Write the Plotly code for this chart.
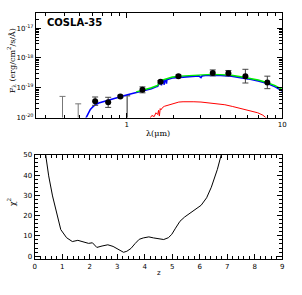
import plotly.graph_objects as go
import numpy as np

# ---- top panel data (SED) ----
phot_lam = [0.626, 0.759, 0.909, 1.261, 1.647, 2.148, 3.57, 4.50, 5.79, 8.01]
phot_logf = [-19.45, -19.49, -19.29, -19.07, -18.80, -18.61, -18.50, -18.51, -18.61, -18.82]
phot_err_dex = [0.14, 0.17, 0.04, 0.10, 0.04, 0.04, 0.10, 0.09, 0.23, 0.21]

lim_lam = [0.386, 0.487, 1.006]
lim_logf = [-19.29, -19.54, -19.27]

blue_lam = [0.542, 0.565, 0.583, 0.605, 0.627, 0.66, 0.708, 0.76, 0.819, 0.9, 0.996, 1.07, 1.151, 1.24, 1.333,
            1.44, 1.542, 1.58, 1.63, 1.66, 1.67, 1.68, 1.72, 1.74, 1.75, 1.78, 1.80, 1.81, 1.85, 1.9, 1.963,
            2.2, 2.4, 2.63, 2.9, 3.0, 3.05, 3.2, 3.52, 4.0, 4.71, 5.3, 6.0, 7.0, 8.03, 9.0, 10.0]
blue_logf = [-20.05, -19.85, -19.73, -19.64, -19.57, -19.51, -19.46, -19.41, -19.37, -19.30, -19.24, -19.20, -19.16,
             -19.12, -19.08, -19.03, -18.97, -18.95, -18.80, -18.79, -18.92, -18.78, -18.76, -18.90, -18.75,
             -18.74, -18.86, -18.73, -18.71, -18.69, -18.67, -18.65, -18.63, -18.61, -18.60, -18.66, -18.60,
             -18.59, -18.58, -18.59, -18.61, -18.65, -18.70, -18.77, -18.86, -18.97, -19.11]

green_lam = [1.15, 1.24, 1.333, 1.44, 1.542, 1.58, 1.63, 1.8, 1.963, 2.2, 2.63, 3.0, 3.52, 4.0, 4.71, 5.3, 6.0,
             7.0, 8.03, 9.0, 10.0]
green_logf = [-19.14, -19.10, -19.05, -19.0, -18.94, -18.92, -18.77, -18.70, -18.64, -18.61, -18.58, -18.56,
              -18.55, -18.56, -18.58, -18.62, -18.67, -18.74, -18.83, -18.93, -19.06]

red_lam = [1.40, 1.45, 1.50, 1.54, 1.58, 1.60, 1.62, 1.64, 1.66, 1.70, 1.75, 1.80, 1.87, 1.95, 2.05, 2.16,
           2.3, 2.5, 2.7, 3.0, 3.35, 3.8, 4.27, 4.8, 5.45, 6.2, 6.95, 7.5, 8.03]
red_logf = [-20.05, -19.93, -19.97, -19.84, -19.90, -19.76, -19.95, -19.70, -19.74, -19.66, -19.62, -19.60,
            -19.57, -19.53, -19.51, -19.48, -19.47, -19.46, -19.47, -19.48, -19.51, -19.54, -19.57, -19.63,
            -19.70, -19.77, -19.84, -19.92, -20.05]

# ---- bottom panel data (chi2 vs z) ----
chi_z = [0.38, 0.51, 0.65, 0.83, 0.95, 1.16, 1.37, 1.57, 1.78, 1.96, 2.10, 2.26, 2.45, 2.66, 2.85, 2.97, 3.10,
         3.23, 3.35, 3.50, 3.65, 3.80, 3.95, 4.09, 4.15, 4.32, 4.51, 4.69, 4.86, 4.98, 5.12, 5.28, 5.45, 5.69,
         5.85, 6.05, 6.25, 6.42, 6.64, 6.79]
chi_v = [52, 39.6, 29.7, 19.7, 13.1, 9.1, 7.2, 7.8, 7.0, 6.3, 6.6, 4.3, 5.0, 5.6, 4.8, 3.8, 2.8,
         1.9, 2.4, 3.8, 6.2, 8.3, 9.0, 9.5, 9.5, 9.0, 8.7, 8.2, 9.1, 10.7, 13.8, 17.2, 19.3, 21.6,
         23.0, 25.1, 28.8, 34.0, 42.8, 50.5]

# ---- tick labels ----
top_x_ticks = [1, 10]
top_x_text = ["1", "10"]
top_y_ticks = [1e-20, 1e-19, 1e-18, 1e-17]
top_y_text = ["10<sup>-20</sup>", "10<sup>-19</sup>", "10<sup>-18</sup>", "10<sup>-17</sup>"]

W, H = 302, 295
fig = go.Figure()

F = lambda arr: [10 ** v for v in arr]

# upper-limit style gray bars
for lam, lf in zip(lim_lam, lim_logf):
    top = 10 ** lf
    fig.add_trace(go.Scatter(x=[lam], y=[top], mode="markers", marker=dict(size=0.1, color="rgba(0,0,0,0)"),
                             error_y=dict(type="data", symmetric=False, array=[0], arrayminus=[top - 1e-21],
                                          color="#777777", thickness=1.6 if lam > 0.9 else 1, width=3),
                             xaxis="x", yaxis="y", showlegend=False, hoverinfo="skip"))

fig.add_trace(go.Scatter(x=red_lam, y=F(red_logf), mode="lines", line=dict(color="#ff0000", width=1),
                         xaxis="x", yaxis="y", showlegend=False))
fig.add_trace(go.Scatter(x=blue_lam, y=F(blue_logf), mode="lines", line=dict(color="#0000ff", width=1.6),
                         xaxis="x", yaxis="y", showlegend=False))
fig.add_trace(go.Scatter(x=green_lam, y=F(green_logf), mode="lines", line=dict(color="#00ee00", width=1.4),
                         xaxis="x", yaxis="y", showlegend=False))

pf = np.array(F(phot_logf))
pe = np.array(phot_err_dex)
fig.add_trace(go.Scatter(x=phot_lam, y=pf, mode="markers",
                         marker=dict(color="black", size=6),
                         error_y=dict(type="data", symmetric=False, array=pf * (10 ** pe - 1),
                                      arrayminus=pf * (1 - 10 ** (-pe)), color="#444444", thickness=1, width=3),
                         xaxis="x", yaxis="y", showlegend=False))

fig.add_trace(go.Scatter(x=chi_z, y=chi_v, mode="lines", line=dict(color="black", width=1),
                         xaxis="x2", yaxis="y2", showlegend=False))

tickfont = dict(family="DejaVu Sans", size=7, color="black")
common = dict(showline=True, linecolor="black", linewidth=1, mirror="allticks", ticks="inside",
              tickcolor="black", showgrid=False, zeroline=False, tickfont=tickfont)


def label(text, x, y, size=8, angle=0, family="DejaVu Serif", xanchor="center"):
    return dict(text=text, x=x / W, y=(H - y) / H, xref="paper", yref="paper", xanchor=xanchor,
                yanchor="middle", textangle=angle, showarrow=False,
                font=dict(family=family, size=size, color="black"))


fig.update_layout(
    width=W, height=H, margin=dict(l=0, r=0, t=0, b=0),
    paper_bgcolor="white", plot_bgcolor="white",
    xaxis=dict(type="log", range=[-0.585, 1], domain=[34.5 / W, 286 / W], anchor="y",
               tickvals=top_x_ticks, ticktext=top_x_text, ticklen=5,
               minor=dict(ticks="inside", ticklen=3, tickvals=[0.3, 0.4, 0.5, 0.6, 0.7, 0.8, 0.9,
                                                             2, 3, 4, 5, 6, 7, 8, 9], tickcolor="black"),
               **common),
    yaxis=dict(type="log", range=[-20, -16.49], domain=[(H - 116.7) / H, (H - 9.3) / H], anchor="x",
               tickvals=top_y_ticks, ticktext=top_y_text, ticklen=5,
               minor=dict(ticks="inside", ticklen=3, tickcolor="black",
                          tickvals=[m * 10 ** e for e in range(-20, -16) for m in range(2, 10)]),
               **common),
    xaxis2=dict(range=[0, 9], domain=[33.3 / W, 286 / W], anchor="y2", dtick=1, ticklen=5,
                minor=dict(ticks="inside", ticklen=3, dtick=0.2, tickcolor="black"), **common),
    yaxis2=dict(range=[-1.5, 50], domain=[(H - 262.3) / H, (H - 155) / H], anchor="x2", dtick=10, tick0=0,
                ticklen=5, minor=dict(ticks="inside", ticklen=3, dtick=2, tickcolor="black"), **common),
    annotations=[
        label("<b>COSLA-35</b>", 44, 19, size=10, family="DejaVu Sans", xanchor="left"),
        label("F<sub>λ</sub> (erg/cm<sup>2</sup>/s/Å)", 10, 58, size=8, angle=-90),
        label("λ(μm)", 159, 133, size=8),
        label("χ<sup>2</sup>", 10, 203, size=8, angle=-90),
        label("z", 160, 277, size=7, family="DejaVu Sans"),
    ],
)

fig.write_html("out.html", config={"displayModeBar": False},
               post_script="document.body.style.margin='0px';document.body.style.overflow='hidden';")
